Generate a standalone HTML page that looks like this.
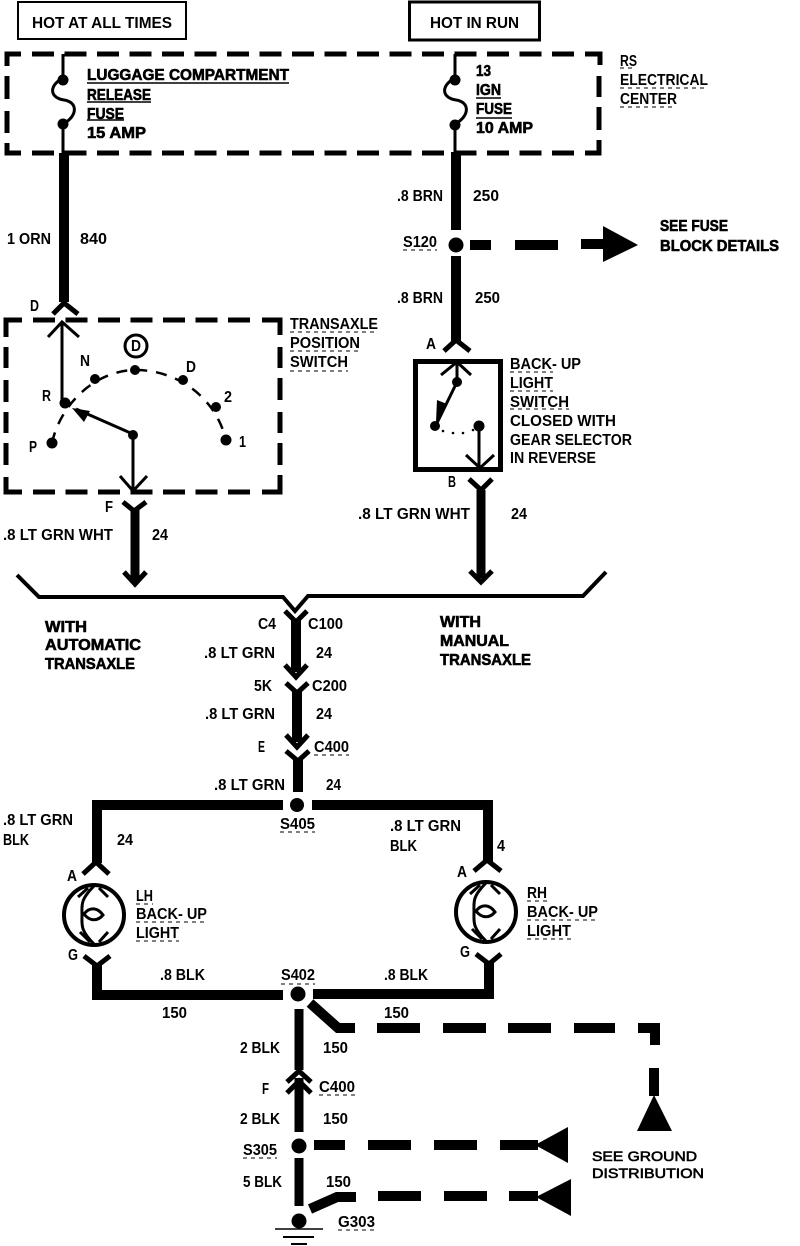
<!DOCTYPE html>
<html><head><meta charset="utf-8"><style>
html,body{margin:0;padding:0;background:#fff}
svg{display:block}
text{font-family:"Liberation Sans",sans-serif;font-weight:bold;font-size:15.5px;fill:#000}
.b{stroke:#000;stroke-width:.6px}
.n{fill:none;stroke:#000;stroke-linecap:butt;stroke-linejoin:miter}
</style></head><body>
<svg width="800" height="1246" viewBox="0 0 800 1246" xmlns="http://www.w3.org/2000/svg">
<rect width="800" height="1246" fill="#fff"/>
<g class="n">
<rect x="18" y="2" width="168" height="37" stroke-width="2"/>
<rect x="409.500" y="2" width="130" height="38" stroke-width="3"/>
<!-- RS electrical center dashed box -->
<path d="M32 54H580" stroke-width="5" stroke-dasharray="22 10.500"/>
<path d="M32 153H580" stroke-width="5" stroke-dasharray="22 10.500"/>
<path d="M21 54H7V66M7 76V99M7 111V133M7 143V153H21" stroke-width="5"/>
<path d="M585 54H600V65M599 76V97M599 107V130M599 140V153H585" stroke-width="5"/>
<path d="M63 54V78M63 78C48 86 50 98 64 100C78 102 78 116 63 124V153M455 54V78C440 86 442 98 456 100C470 102 470 116 455 124V153" stroke-width="3"/>
<path d="M64 153V302M456 152V230M456 256V342" stroke-width="10"/>
<path d="M470 245H491M515 245H558M581 244H606" stroke-width="10"/>
<path d="M53 314L64 303L78 314M444 351L456 340L470 351M83 874L96 862L109 874M474 871L487 860L501 871" stroke-width="5"/>
<!-- Transaxle dashed box -->
<path d="M33 320H255" stroke-width="5" stroke-dasharray="22 10.500"/>
<path d="M33 492H255" stroke-width="5" stroke-dasharray="22 10.500"/>
<path d="M22 320H6V337M6 347V368M6 380V402M6 412V433M6 443V465M6 477V492H22" stroke-width="5"/>
<path d="M262 320H280V335M280 347V368M280 378V400M280 412V433M280 443V465M280 475V492H262" stroke-width="5"/>
<path d="M62 403V322M48 337L62 322L79 337M133 435V490M120 476L133 491L147 476M135 435L76 409" stroke-width="3"/>
<path d="M457 382V362M441 375L457 362L471 375M479 426V468M466 455L480 468L494 455M457 382L437 423" stroke-width="3"/>
<path d="M52 443C60 405 95 370 136 370C175 370 215 395 226 440" stroke-width="2.500" stroke-dasharray="11 9"/>
<rect x="415.500" y="361.500" width="85" height="108" stroke-width="5"/>
<path d="M123 502L134 511L146 502M469 479L481 490L492 479M124 572L135 584L146 572M470 571L481 582L492 571" stroke-width="5"/>
<path d="M135 510V582M481 490V578" stroke-width="9"/>
<path d="M17 575L39 597H283L295 611L308 596H583L606 572" stroke-width="4"/>
<path d="M285 611L296 622L307 611M285 665L296 677L307 665M286 683L297 693L308 683M286 735L297 747L308 735M286 751L298 761L309 751" stroke-width="5"/>
<path d="M296 620V672M297 692V742M298 760V792" stroke-width="10"/>
<path d="M283 805H97V863M312 805H488V862" stroke-width="10"/>
<path d="M84 956L97 966L110 956M476 954L489 964L501 954" stroke-width="5"/>
<path d="M97 964V995H283M489 962V994H313" stroke-width="10"/>
<circle cx="94" cy="915" r="30" stroke-width="4"/>
<circle cx="486" cy="912" r="30" stroke-width="4"/>
<path d="M94 886C80 900 82 905 82 915C82 925 80 930 94 944M78 897L88 888M99 888L108 897M80 932L90 942M99 942L108 932M84 914C90 906 98 908 103 915C98 921 90 922 84 914Z" stroke-width="3"/>
<path d="M486 883C472 897 474 902 474 912C474 922 472 927 486 941M470 894L480 885M491 885L500 894M472 929L482 939M491 939L500 929M476 911C482 903 490 905 495 912C490 918 482 919 476 911Z" stroke-width="3"/>
<path d="M310 1003L338 1028H355" stroke-width="10"/>
<path d="M299 1009V1070M299 1078V1132M299 1158V1206" stroke-width="9"/>
<path d="M287 1082L299 1071L311 1082M287 1093L299 1081L311 1093" stroke-width="5"/>
<path d="M377 1028H420M443 1028H486M508 1028H551M574 1028H615M638 1028H655V1045M654 1068V1096" stroke-width="10"/>
<path d="M314 1145H345M368 1145H411M434 1145H477M500 1145H538M378 1196H421M444 1196H487M509 1196H538" stroke-width="10"/>
<path d="M310 1209L337 1197H356" stroke-width="10"/>
<path d="M275 1229H323" stroke-width="1.500"/>
<path d="M283 1237H314" stroke-width="2"/>
<path d="M291 1244H307" stroke-width="2"/>
<!-- solid underlines -->
<path d="M87 83H289M87 102H151M87 120H124M476 98H501M476 118H512" stroke-width="1.500"/>
<!-- dashed underlines -->
<path d="M620 68H636M620 88H708M620 107H676M290 332H378M290 351H360M290 371H348M510 372H553M510 391H553M510 409H569M280 832H315M281 984H315M136 904H153M136 922H207M136 941H179M527 901H547M527 920H598M527 939H571M314 755H349M319 1095H355M243 1158H277M338 1230H375M403 250H437" stroke-width="1" stroke-dasharray="4 4"/>
</g>
<g fill="#000">
<circle cx="63" cy="80" r="5.500"/><circle cx="63" cy="124" r="5.500"/>
<circle cx="455" cy="80" r="5.500"/><circle cx="455" cy="125" r="5.500"/>
<circle cx="456" cy="245" r="7.500"/>
<circle cx="95" cy="379" r="5"/><circle cx="135" cy="370" r="5"/><circle cx="183" cy="380" r="5"/><circle cx="216" cy="407" r="5"/><circle cx="226" cy="440" r="5.500"/><circle cx="65" cy="403" r="5.500"/><circle cx="52" cy="443" r="5.500"/><circle cx="133" cy="435" r="5"/>
<circle cx="457" cy="382" r="5"/><circle cx="435" cy="426" r="5"/><circle cx="479" cy="426" r="5.500"/>
<circle cx="443" cy="431" r="1.300"/><circle cx="453" cy="433" r="1.300"/><circle cx="463" cy="433" r="1.300"/><circle cx="473" cy="430" r="1.300"/>
<polygon points="72,408 90,411 84,422"/>
<polygon points="436,422 447,404 437,400"/>
<polygon points="603,226 603,262 638,245"/>
<circle cx="297" cy="805" r="7"/><circle cx="298" cy="994" r="7.500"/><circle cx="299" cy="1146" r="7.500"/><circle cx="299" cy="1221" r="7.500"/>
<polygon points="654,1095 637,1131 672,1131"/>
<polygon points="535,1145 568,1127 568,1163"/>
<polygon points="536,1197 571,1179 571,1216"/>
</g>
<circle cx="136" cy="346" r="11" fill="none" stroke="#000" stroke-width="3"/>
<text x="32" y="28" textLength="140" lengthAdjust="spacingAndGlyphs">HOT AT ALL TIMES</text>
<text x="430" y="28" textLength="89" lengthAdjust="spacingAndGlyphs">HOT IN RUN</text>
<g>
<text class="b" x="87" y="80" textLength="202" lengthAdjust="spacingAndGlyphs">LUGGAGE COMPARTMENT</text>
<text class="b" x="87" y="100" textLength="64" lengthAdjust="spacingAndGlyphs">RELEASE</text>
<text class="b" x="87" y="119" textLength="37" lengthAdjust="spacingAndGlyphs">FUSE</text>
<text class="b" x="87" y="138" textLength="59" lengthAdjust="spacingAndGlyphs">15 AMP</text>
<text class="b" x="476" y="76" textLength="15" lengthAdjust="spacingAndGlyphs">13</text>
<text class="b" x="476" y="95" textLength="25" lengthAdjust="spacingAndGlyphs">IGN</text>
<text class="b" x="476" y="114" textLength="36" lengthAdjust="spacingAndGlyphs">FUSE</text>
<text class="b" x="476" y="133" textLength="57" lengthAdjust="spacingAndGlyphs">10 AMP</text>
<text class="b" x="660" y="231" textLength="68" lengthAdjust="spacingAndGlyphs">SEE FUSE</text>
<text class="b" x="660" y="251" textLength="119" lengthAdjust="spacingAndGlyphs">BLOCK DETAILS</text>
<text class="b" x="45" y="632" textLength="42" lengthAdjust="spacingAndGlyphs">WITH</text>
<text class="b" x="45" y="650" textLength="96" lengthAdjust="spacingAndGlyphs">AUTOMATIC</text>
<text class="b" x="45" y="669" textLength="90" lengthAdjust="spacingAndGlyphs">TRANSAXLE</text>
<text class="b" x="440" y="627" textLength="41" lengthAdjust="spacingAndGlyphs">WITH</text>
<text class="b" x="440" y="646" textLength="69" lengthAdjust="spacingAndGlyphs">MANUAL</text>
<text class="b" x="440" y="665" textLength="91" lengthAdjust="spacingAndGlyphs">TRANSAXLE</text>
</g>
<text x="620" y="66" textLength="17" lengthAdjust="spacingAndGlyphs">RS</text>
<text x="620" y="85" textLength="88" lengthAdjust="spacingAndGlyphs">ELECTRICAL</text>
<text x="620" y="104" textLength="57" lengthAdjust="spacingAndGlyphs">CENTER</text>
<text x="397" y="201" textLength="46" lengthAdjust="spacingAndGlyphs">.8 BRN</text>
<text x="473" y="201" textLength="26" lengthAdjust="spacingAndGlyphs">250</text>
<text x="403" y="247" textLength="34" lengthAdjust="spacingAndGlyphs">S120</text>
<text x="397" y="303" textLength="46" lengthAdjust="spacingAndGlyphs">.8 BRN</text>
<text x="475" y="303" textLength="25" lengthAdjust="spacingAndGlyphs">250</text>
<text x="7" y="244" textLength="44" lengthAdjust="spacingAndGlyphs">1 ORN</text>
<text x="80" y="244" textLength="27" lengthAdjust="spacingAndGlyphs">840</text>
<text x="30" y="311" textLength="9" lengthAdjust="spacingAndGlyphs">D</text>
<text x="290" y="329" textLength="88" lengthAdjust="spacingAndGlyphs">TRANSAXLE</text>
<text x="290" y="348" textLength="70" lengthAdjust="spacingAndGlyphs">POSITION</text>
<text x="290" y="367" textLength="58" lengthAdjust="spacingAndGlyphs">SWITCH</text>
<text x="131" y="351" textLength="10" lengthAdjust="spacingAndGlyphs">D</text>
<text x="80" y="366" textLength="10" lengthAdjust="spacingAndGlyphs">N</text>
<text x="186" y="372" textLength="10" lengthAdjust="spacingAndGlyphs">D</text>
<text x="224" y="402" textLength="8" lengthAdjust="spacingAndGlyphs">2</text>
<text x="42" y="401" textLength="9" lengthAdjust="spacingAndGlyphs">R</text>
<text x="29" y="452" textLength="8" lengthAdjust="spacingAndGlyphs">P</text>
<text x="239" y="447" textLength="7" lengthAdjust="spacingAndGlyphs">1</text>
<text x="105" y="512" textLength="8" lengthAdjust="spacingAndGlyphs">F</text>
<text x="3" y="540" textLength="110" lengthAdjust="spacingAndGlyphs">.8 LT GRN WHT</text>
<text x="152" y="540" textLength="16" lengthAdjust="spacingAndGlyphs">24</text>
<text x="426" y="349" textLength="10" lengthAdjust="spacingAndGlyphs">A</text>
<text x="448" y="487" textLength="8" lengthAdjust="spacingAndGlyphs">B</text>
<text x="358" y="519" textLength="112" lengthAdjust="spacingAndGlyphs">.8 LT GRN WHT</text>
<text x="511" y="519" textLength="16" lengthAdjust="spacingAndGlyphs">24</text>
<text x="510" y="369" textLength="71" lengthAdjust="spacingAndGlyphs">BACK- UP</text>
<text x="510" y="388" textLength="43" lengthAdjust="spacingAndGlyphs">LIGHT</text>
<text x="510" y="407" textLength="59" lengthAdjust="spacingAndGlyphs">SWITCH</text>
<text x="510" y="426" textLength="106" lengthAdjust="spacingAndGlyphs">CLOSED WITH</text>
<text x="510" y="445" textLength="122" lengthAdjust="spacingAndGlyphs">GEAR SELECTOR</text>
<text x="510" y="463" textLength="86" lengthAdjust="spacingAndGlyphs">IN REVERSE</text>
<text x="258" y="629" textLength="18" lengthAdjust="spacingAndGlyphs">C4</text>
<text x="308" y="629" textLength="35" lengthAdjust="spacingAndGlyphs">C100</text>
<text x="204" y="658" textLength="71" lengthAdjust="spacingAndGlyphs">.8 LT GRN</text>
<text x="316" y="658" textLength="16" lengthAdjust="spacingAndGlyphs">24</text>
<text x="254" y="691" textLength="18" lengthAdjust="spacingAndGlyphs">5K</text>
<text x="312" y="691" textLength="35" lengthAdjust="spacingAndGlyphs">C200</text>
<text x="205" y="719" textLength="70" lengthAdjust="spacingAndGlyphs">.8 LT GRN</text>
<text x="316" y="719" textLength="16" lengthAdjust="spacingAndGlyphs">24</text>
<text x="258" y="752" textLength="7" lengthAdjust="spacingAndGlyphs">E</text>
<text x="314" y="752" textLength="35" lengthAdjust="spacingAndGlyphs">C400</text>
<text x="214" y="790" textLength="71" lengthAdjust="spacingAndGlyphs">.8 LT GRN</text>
<text x="326" y="790" textLength="15" lengthAdjust="spacingAndGlyphs">24</text>
<text x="3" y="825" textLength="70" lengthAdjust="spacingAndGlyphs">.8 LT GRN</text>
<text x="3" y="845" textLength="26" lengthAdjust="spacingAndGlyphs">BLK</text>
<text x="117" y="845" textLength="16" lengthAdjust="spacingAndGlyphs">24</text>
<text x="280" y="829" textLength="35" lengthAdjust="spacingAndGlyphs">S405</text>
<text x="390" y="831" textLength="71" lengthAdjust="spacingAndGlyphs">.8 LT GRN</text>
<text x="390" y="851" textLength="27" lengthAdjust="spacingAndGlyphs">BLK</text>
<text x="497" y="851" textLength="8" lengthAdjust="spacingAndGlyphs">4</text>
<text x="67" y="881" textLength="10" lengthAdjust="spacingAndGlyphs">A</text>
<text x="457" y="877" textLength="10" lengthAdjust="spacingAndGlyphs">A</text>
<text x="136" y="901" textLength="17" lengthAdjust="spacingAndGlyphs">LH</text>
<text x="136" y="919" textLength="71" lengthAdjust="spacingAndGlyphs">BACK- UP</text>
<text x="136" y="938" textLength="43" lengthAdjust="spacingAndGlyphs">LIGHT</text>
<text x="527" y="898" textLength="20" lengthAdjust="spacingAndGlyphs">RH</text>
<text x="527" y="917" textLength="71" lengthAdjust="spacingAndGlyphs">BACK- UP</text>
<text x="527" y="936" textLength="44" lengthAdjust="spacingAndGlyphs">LIGHT</text>
<text x="68" y="960" textLength="10" lengthAdjust="spacingAndGlyphs">G</text>
<text x="460" y="957" textLength="10" lengthAdjust="spacingAndGlyphs">G</text>
<text x="160" y="980" textLength="45" lengthAdjust="spacingAndGlyphs">.8 BLK</text>
<text x="281" y="980" textLength="34" lengthAdjust="spacingAndGlyphs">S402</text>
<text x="384" y="980" textLength="44" lengthAdjust="spacingAndGlyphs">.8 BLK</text>
<text x="162" y="1018" textLength="25" lengthAdjust="spacingAndGlyphs">150</text>
<text x="384" y="1018" textLength="25" lengthAdjust="spacingAndGlyphs">150</text>
<text x="240" y="1053" textLength="40" lengthAdjust="spacingAndGlyphs">2 BLK</text>
<text x="323" y="1053" textLength="25" lengthAdjust="spacingAndGlyphs">150</text>
<text x="262" y="1094" textLength="7" lengthAdjust="spacingAndGlyphs">F</text>
<text x="319" y="1092" textLength="36" lengthAdjust="spacingAndGlyphs">C400</text>
<text x="240" y="1124" textLength="40" lengthAdjust="spacingAndGlyphs">2 BLK</text>
<text x="323" y="1124" textLength="25" lengthAdjust="spacingAndGlyphs">150</text>
<text x="243" y="1155" textLength="34" lengthAdjust="spacingAndGlyphs">S305</text>
<text x="243" y="1187" textLength="39" lengthAdjust="spacingAndGlyphs">5 BLK</text>
<text x="326" y="1187" textLength="25" lengthAdjust="spacingAndGlyphs">150</text>
<text x="338" y="1227" textLength="37" lengthAdjust="spacingAndGlyphs">G303</text>
<text x="592" y="1161" textLength="105" lengthAdjust="spacingAndGlyphs" style="font-size:14px;font-weight:normal" class="b">SEE GROUND</text>
<text x="592" y="1178" textLength="112" lengthAdjust="spacingAndGlyphs" style="font-size:14px;font-weight:normal" class="b">DISTRIBUTION</text>
</svg>
</body></html>
